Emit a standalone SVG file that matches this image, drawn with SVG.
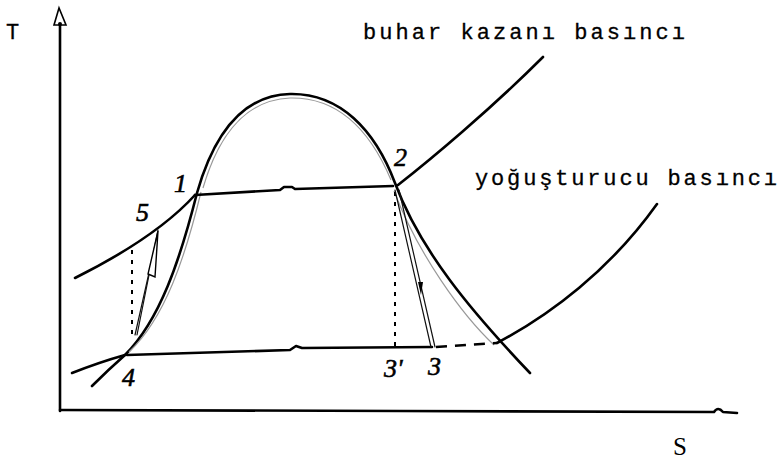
<svg xmlns="http://www.w3.org/2000/svg" width="784" height="459" viewBox="0 0 784 459">
<style>
.thick{fill:none;stroke:#000;stroke-width:2.6;stroke-linecap:round;stroke-linejoin:round}
.thin{fill:none;stroke:#111;stroke-width:1.2;stroke-linecap:round}
.grey{fill:none;stroke:#999;stroke-width:1.2}
.dash{fill:none;stroke:#000;stroke-width:2;stroke-dasharray:4 6}
.dash2{fill:none;stroke:#000;stroke-width:2.4;stroke-dasharray:11 8}
.mono{font-family:"Liberation Mono","DejaVu Sans Mono",monospace;font-size:22px;fill:#000;stroke:#000;stroke-width:0.3}
.hand{font-family:"Liberation Serif","DejaVu Serif",serif;font-style:italic;font-size:26px;fill:#000;stroke:#000;stroke-width:0.6}
.ax{font-family:"Liberation Serif","DejaVu Serif",serif;font-size:25px;fill:#000}
</style>
<rect width="784" height="459" fill="#fff"/>
<g id="axes">
<path class="thick" d="M60,24 L60,411"/>
<polygon points="59,8 54,25 66,25" fill="#fff" stroke="#000" stroke-width="1.6"/>
<circle cx="60" cy="24" r="2" fill="#000"/>
<path class="thick" d="M60,410 L400,411 L714,412 Q718,406 723,412 L737,413"/>
<text class="mono" x="6" y="39">T</text>
<text class="ax" x="673" y="455">S</text>
</g>
<g id="connectors">
<path id="dome" class="thick" d="M92,386 Q108,370 125,355 C160,320 180,260 197,193 C215,130 245,95 290,94 C340,93 375,130 395,183 C420,250 470,310 530,373"/>
<path class="grey" d="M129,352 C165,318 185,258 201,192"/>
<path class="grey" d="M203,188 C220,130 248,100 290,98 C338,97 370,130 391,180"/>
<path class="grey" d="M394,191 C418,254 462,315 494,345"/>
<path id="boiler-left" class="thick" d="M75,278 C115,258 165,228 195,195"/>
<path id="boiler-right" class="thick" d="M398,185 C430,160 490,110 543,57"/>
<path id="line-1-2" class="thick" d="M195,195 L280,190 L284,187 L292,187 L295,189 L393,186"/>
<path id="line-4-3" class="thick" d="M127,355 L290,350 L296,346 L302,348 L432,347"/>
<path class="dash2" d="M436,347 L497,343"/>
<path id="cond-left" class="thick" d="M72,373 Q100,362 125,355"/>
<path id="cond-right" class="thick" d="M497,343 C550,315 610,270 657,204"/>
<path class="dash" d="M395,192 L395,347"/>
<path class="dash" d="M132,250 L132,336"/>
<path class="thin" d="M395,190 L431,347"/>
<path class="thin" d="M399,190 L435,347"/>
<path d="M418,282 L423,282 L421,295 Z" fill="#000"/>
<path class="thin" d="M137,335 L158,230"/>
<path class="thin" d="M135,335 L153,255"/>
<polygon points="158,231 148,274 155,277" fill="#fff" stroke="#000" stroke-width="1.4"/>
</g>
<g id="label-boiler"><text class="mono" x="363" y="39" textLength="322" lengthAdjust="spacing">buhar kazanı basıncı</text></g>
<g id="label-condenser"><text class="mono" x="475" y="185" textLength="302" lengthAdjust="spacing">yoğuşturucu basıncı</text></g>
<g id="p1"><text class="hand" x="174" y="192">1</text></g>
<g id="p2"><text class="hand" x="394" y="166" font-size="23">2</text></g>
<g id="p3p"><text class="hand" x="384" y="377" font-size="28">3'</text></g>
<g id="p3"><text class="hand" x="428" y="375" font-size="28">3</text></g>
<g id="p4"><text class="hand" x="122" y="386">4</text></g>
<g id="p5"><text class="hand" x="136" y="221">5</text></g>
</svg>
